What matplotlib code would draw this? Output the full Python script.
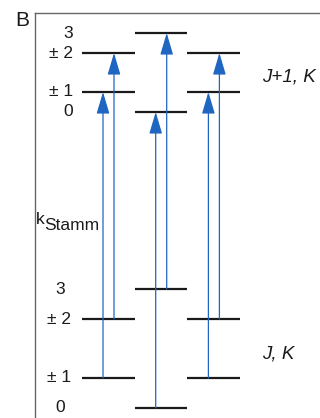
import matplotlib.pyplot as plt

# energy level diagram: three K-columns, lower (J, K) and upper (J+1, K) manifolds
# energies in arbitrary units (figure y from the bottom)
columns = [0, 1, 2]
k_labels = ["± 1", "± 2", "0", "3", "± 1", "± 2"]
k_column = [0, 0, 1, 1, 2, 2]
k_slot = [0, 1, 0, 1, 0, 1]          # which arrow slot inside the column
lower_energy = [40, 99, 10, 129, 40, 99]
upper_energy = [326, 365, 306, 385, 326, 365]

lower_tick_labels = ["0", "± 1", "± 2", "3"]
lower_tick_energy = [10, 40, 99, 129]
upper_tick_labels = ["0", "± 1", "± 2", "3"]
upper_tick_energy = [306, 326, 365, 385]

blue = "#1f66c1"
ink = "#1a1a1a"
col_left, col_width = 82, 52.7
slot_off = [21, 32]

fig = plt.figure(figsize=(3.2, 4.18), dpi=100)
ax = fig.add_axes([35 / 320, 0, 285 / 320, 405 / 418])
ax.set_xlim(35, 320)
ax.set_ylim(0, 405)
for s in ["right", "bottom"]:
    ax.spines[s].set_visible(False)
for s in ["left", "top"]:
    ax.spines[s].set_color("#666666")
    ax.spines[s].set_linewidth(1.0)
ax.set_xticks([])
ax.set_yticks([])

font = "Liberation Sans"

# level lines
for c, e0, e1 in zip(k_column, lower_energy, upper_energy):
    x0 = col_left + c * col_width
    ax.plot([x0, x0 + col_width], [e0, e0], color=ink, lw=1.6,
            solid_capstyle="butt")
    ax.plot([x0, x0 + col_width], [e1, e1], color=ink, lw=1.6,
            solid_capstyle="butt")

# transitions
for c, sl, e0, e1 in zip(k_column, k_slot, lower_energy, upper_energy):
    x = col_left + c * col_width + slot_off[sl]
    ax.annotate("", xy=(x, e1), xytext=(x, e0),
                arrowprops=dict(arrowstyle="-|>,head_length=1.35,head_width=0.4",
                                mutation_scale=10, lw=0.9, color=blue,
                                shrinkA=0, shrinkB=0))

# K labels
for lab, e in zip(upper_tick_labels, upper_tick_energy):
    ax.text(73, e, lab, ha="right", va="center", fontsize=12.5, family=font,
            color=ink)
for lab, e in zip(lower_tick_labels, lower_tick_energy):
    if lab.startswith("±"):
        ax.text(71, e, lab, ha="right", va="center", fontsize=12.5, family=font,
                color=ink)
    else:
        ax.text(60, e, lab, ha="center", va="center", fontsize=12.5, family=font,
                color=ink)

ax.text(262, 418 - 77, "J+1, K", ha="left", va="center", fontsize=13.5,
        family=font, style="italic", color=ink)
ax.text(262, 418 - 354, "J, K", ha="left", va="center", fontsize=13.5,
        family=font, style="italic", color=ink)

ax.text(36, 418 - 219, "k", ha="left", va="center", fontsize=12.5,
        family=font, color=ink)
ax.text(44.5, 418 - 226, "Stamm", ha="left", va="center", fontsize=12.5,
        family=font, color=ink)

fig.text(15 / 320, 1 - 21 / 418, "B", ha="left", va="center", fontsize=15,
         family=font, color=ink)

fig.savefig("out.png", dpi=100)
